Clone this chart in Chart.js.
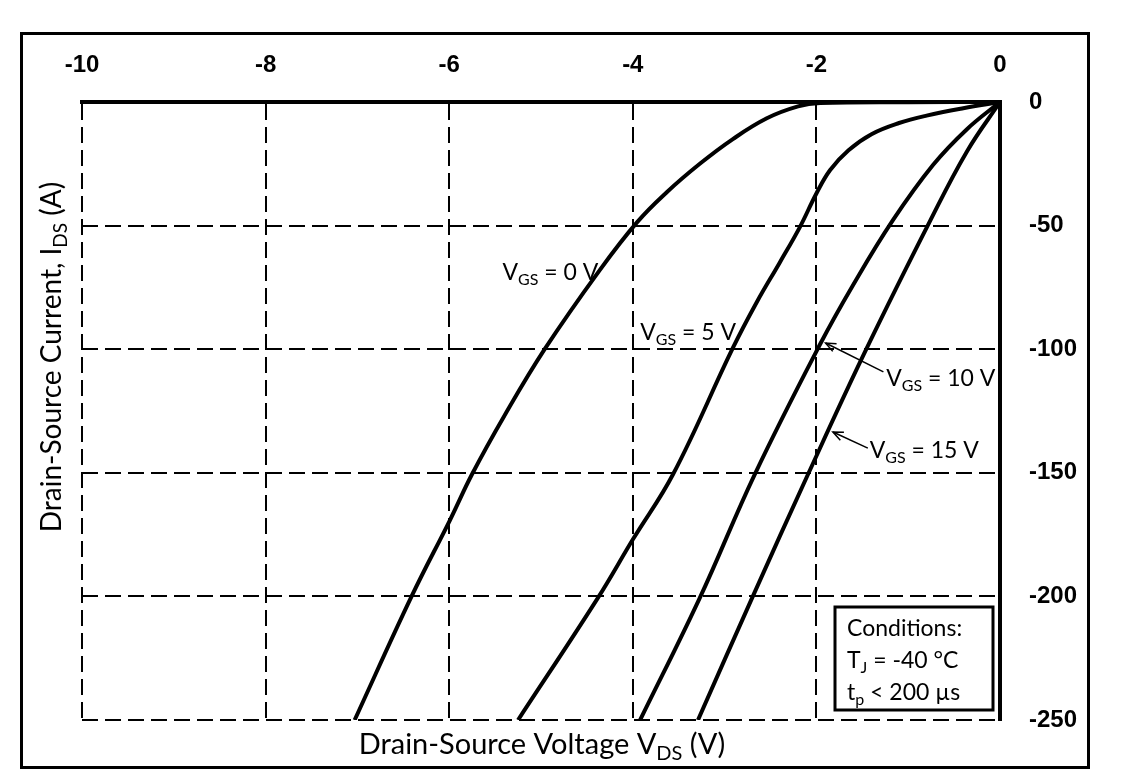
<!DOCTYPE html>
<html>
<head>
<meta charset="utf-8">
<title>Drain-Source characteristics</title>
<script src="https://cdn.jsdelivr.net/npm/chart.js@4.4.1/dist/chart.umd.min.js"></script>
<style>
    html, body { margin: 0; padding: 0; background: #fff; }
    #wrap { width: 1138px; height: 774px; position: relative; }
</style>
</head>
<body>
<div id="wrap"><canvas id="ids-chart"></canvas></div>
<script>
// tick values and labels
const xTicks = [-10, -8, -6, -4, -2, 0]
const xTickLabels = ['-10', '-8', '-6', '-4', '-2', '0']
const yTicks = [-250, -200, -150, -100, -50, 0]
const yTickLabels = ['-250', '-200', '-150', '-100', '-50', '0']

// series (V, A)
const seriesNames = ['VGS = 0 V', 'VGS = 5 V', 'VGS = 10 V', 'VGS = 15 V']
const vdsGs0 = [-7.03, -6.41, -5.99, -5.75, -5.4, -4.96, -4.36, -3.95, -3.63, -3.27, -2.91, -2.54, -2.2, -1.96, -1.0, 0]
const idsGs0 = [-250, -200, -169, -150.5, -127, -100, -68, -48.5, -36.5, -25, -15, -6.6, -1.8, -0.4, -0.1, 0]
const vdsGs5 = [-5.25, -4.38, -4.0, -3.56, -2.91, -2.65, -2.40, -2.18, -2.0, -1.85, -1.65, -1.4, -1.1, -0.8, -0.4, 0]
const idsGs5 = [-250, -200.6, -177, -150.5, -99.5, -81, -65, -50.6, -37, -27.5, -19.5, -13, -8.5, -5.5, -2.5, 0]
const vdsGs10 = [-3.92, -3.27, -2.67, -1.96, -1.60, -1.17, -0.73, -0.36, 0]
const idsGs10 = [-250, -200.6, -150.5, -98, -74, -48, -25.5, -11, 0]
const vdsGs15 = [-3.29, -2.70, -2.09, -1.45, -0.76, -0.36, 0]
const idsGs15 = [-250, -200.6, -150.5, -99.5, -48, -20, 0]

const conditions = [
    [{ t: 'Conditions:' }],
    [{ t: 'T' }, { t: 'J', sub: true }, { t: ' = -40 °C' }],
    [{ t: 't' }, { t: 'p', sub: true }, { t: ' < 200 µs' }]
]

// curve labels, placed in data units (left edge, baseline)
const curveLabels = [
    { x: -5.42, y: -72, parts: [{ t: 'V' }, { t: 'GS', sub: true }, { t: ' = 0 V' }] },
    { x: -3.92, y: -96.3, parts: [{ t: 'V' }, { t: 'GS', sub: true }, { t: ' = 5 V' }] },
    { x: -1.24, y: -115, parts: [{ t: 'V' }, { t: 'GS', sub: true }, { t: ' = 10 V' }] },
    { x: -1.42, y: -144, parts: [{ t: 'V' }, { t: 'GS', sub: true }, { t: ' = 15 V' }] }
]
const arrows = [
    { from: [-1.27, -109.2], to: [-1.90, -97.5] },
    { from: [-1.44, -140], to: [-1.82, -133.5] }
]

const FONT = 'Lato, "Open Sans", sans-serif'

function zip(xs, ys) {
    return xs.map((x, i) => ({ x, y: ys[i] }))
}

function richWidth(ctx, parts, size, weight) {
    let w = 0
    parts.forEach(p => {
        ctx.font = `${weight} ${p.sub ? Math.round(size * 0.68) : size}px ${FONT}`
        w += ctx.measureText(p.t).width
    })
    return w
}

function drawRich(ctx, parts, x, y, size, weight) {
    let cx = x
    ctx.textAlign = 'left'
    ctx.textBaseline = 'alphabetic'
    parts.forEach(p => {
        ctx.font = `${weight} ${p.sub ? Math.round(size * 0.68) : size}px ${FONT}`
        ctx.fillText(p.t, cx, p.sub ? y + size * 0.2 : y)
        cx += ctx.measureText(p.t).width
    })
}

function drawArrow(ctx, x1, y1, x2, y2) {
    const ang = Math.atan2(y2 - y1, x2 - x1)
    const head = 11
    ctx.beginPath()
    ctx.moveTo(x1, y1)
    ctx.lineTo(x2, y2)
    ctx.stroke()
    ctx.beginPath()
    ctx.moveTo(x2 - head * Math.cos(ang - 0.4), y2 - head * Math.sin(ang - 0.4))
    ctx.lineTo(x2, y2)
    ctx.lineTo(x2 - head * Math.cos(ang + 0.4), y2 - head * Math.sin(ang + 0.4))
    ctx.stroke()
}

const decorations = {
    id: 'decorations',
    beforeDraw(chart) {
        const { ctx, width, height } = chart
        ctx.save()
        ctx.fillStyle = '#fff'
        ctx.fillRect(0, 0, width, height)
        ctx.strokeStyle = '#000'
        ctx.lineWidth = 3
        ctx.strokeRect(21.5, 33.5, 1067, 734)
        ctx.restore()
    },
    afterDraw(chart) {
        const { ctx, chartArea } = chart
        const xs = chart.scales.x
        const ys = chart.scales.y
        ctx.save()
        ctx.fillStyle = '#000'
        ctx.strokeStyle = '#000'

        // axis titles
        const xTitle = [{ t: 'Drain-Source Voltage V' }, { t: 'DS', sub: true }, { t: ' (V)' }]
        const xw = richWidth(ctx, xTitle, 29, 'normal')
        drawRich(ctx, xTitle, 542 - xw / 2, 754, 29, 'normal')

        const yTitle = [{ t: 'Drain-Source Current, I' }, { t: 'DS', sub: true }, { t: ' (A)' }]
        const yw = richWidth(ctx, yTitle, 28, 'normal')
        ctx.save()
        ctx.translate(61, 357)
        ctx.rotate(-Math.PI / 2)
        drawRich(ctx, yTitle, -yw / 2, 0, 28, 'normal')
        ctx.restore()

        // curve labels and arrows
        curveLabels.forEach(l => {
            drawRich(ctx, l.parts, xs.getPixelForValue(l.x), ys.getPixelForValue(l.y), 23, 'normal')
        })
        ctx.lineWidth = 1.5
        arrows.forEach(a => {
            drawArrow(ctx,
                xs.getPixelForValue(a.from[0]), ys.getPixelForValue(a.from[1]),
                xs.getPixelForValue(a.to[0]), ys.getPixelForValue(a.to[1]))
        })

        // conditions box
        const bx = chartArea.right - 165
        const by = chartArea.bottom - 113
        ctx.fillStyle = '#fff'
        ctx.fillRect(bx, by, 158, 103)
        ctx.lineWidth = 3
        ctx.strokeRect(bx, by, 158, 103)
        ctx.fillStyle = '#000'
        conditions.forEach((line, i) => {
            drawRich(ctx, line, bx + 12, by + 29 + i * 32, 23, 'normal')
        })
        ctx.restore()
    }
}

function createChart() {
    const canvas = document.querySelector('#ids-chart')
    const curves = [
        zip(vdsGs0, idsGs0),
        zip(vdsGs5, idsGs5),
        zip(vdsGs10, idsGs10),
        zip(vdsGs15, idsGs15)
    ]

    new Chart(canvas, {
        type: 'line',
        data: {
            datasets: curves.map((pts, i) => ({
                label: seriesNames[i],
                data: pts,
                borderColor: '#000',
                borderWidth: 4,
                pointRadius: 0,
                fill: false,
                tension: 0.4
            }))
        },
        options: {
            responsive: true,
            maintainAspectRatio: false,
            animation: false,
            devicePixelRatio: 1,
            layout: {
                padding: { left: 82, top: 42, right: 48, bottom: 54 }
            },
            plugins: {
                legend: { display: false },
                tooltip: { enabled: false }
            },
            scales: {
                x: {
                    type: 'linear',
                    position: 'top',
                    min: -10,
                    max: 0,
                    afterBuildTicks: scale => { scale.ticks = xTicks.map(v => ({ value: v })) },
                    afterFit: scale => { scale.height = 60 },
                    ticks: {
                        callback: (v, i) => xTickLabels[i],
                        color: '#000',
                        padding: 22,
                        maxRotation: 0,
                        font: { family: '"Liberation Sans", Arial, sans-serif', size: 24, weight: 'bold' }
                    },
                    grid: { color: '#000', lineWidth: 2, drawTicks: false },
                    border: { display: true, color: '#000', width: 4, dash: [16, 7] }
                },
                y: {
                    type: 'linear',
                    position: 'right',
                    min: -250,
                    max: 0,
                    afterBuildTicks: scale => { scale.ticks = yTicks.map(v => ({ value: v })) },
                    afterFit: scale => { scale.width = 90 },
                    ticks: {
                        callback: (v, i) => yTickLabels[i],
                        color: '#000',
                        padding: 29,
                        font: { family: '"Liberation Sans", Arial, sans-serif', size: 24, weight: 'bold' }
                    },
                    grid: { color: '#000', lineWidth: 2, drawTicks: false },
                    border: { display: true, color: '#000', width: 4, dash: [16, 7] }
                }
            }
        },
        plugins: [decorations]
    })
}

createChart()
</script>
</body>
</html>
